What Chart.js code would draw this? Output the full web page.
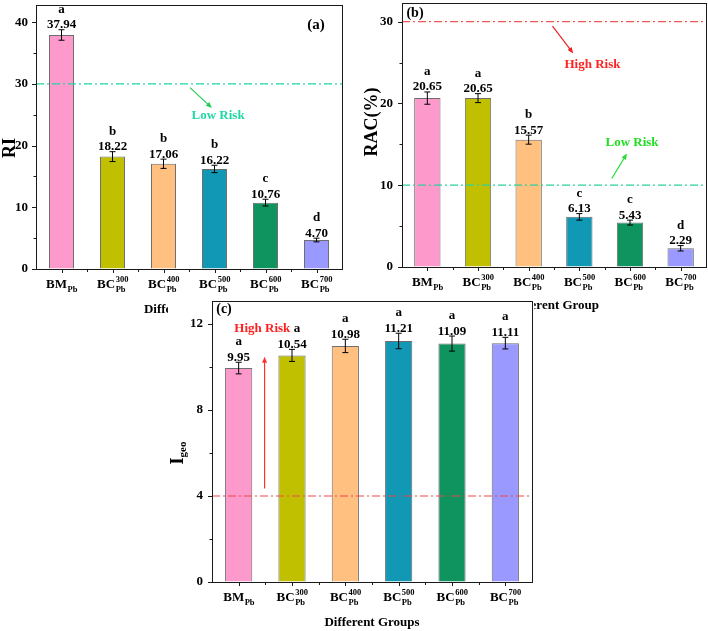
<!DOCTYPE html>
<html>
<head>
<meta charset="utf-8">
<script src="https://cdn.jsdelivr.net/npm/chart.js@4.4.0/dist/chart.umd.min.js"></script>
<style>
  html, body { margin: 0; padding: 0; background: #fff; }
  #wrap { position: relative; width: 708px; height: 631px; overflow: hidden; background: #fff; }
  canvas { position: absolute; display: block; }
  #ca { left: 0; top: 0; }
  #cb { left: 354px; top: 0; }
  #cc { left: 168px; top: 298px; background: #fff; z-index: 2; }
</style>
</head>
<body>
<div id="wrap">
  <canvas id="ca" width="354" height="320"></canvas>
  <canvas id="cb" width="354" height="320"></canvas>
  <canvas id="cc" width="366" height="333"></canvas>
</div>
<script>
// groups on the x axis: BM_Pb, BC^300_Pb ... BC^700_Pb
var groups = ['BM', 'BC', 'BC', 'BC', 'BC', 'BC'];
var groupTemps = ['', '300', '400', '500', '600', '700'];
var groupSub = 'Pb';
var barColors = ['#fd99cb', '#c0c000', '#ffc080', '#1098b4', '#0f945f', '#9999ff'];

// (a) RI
var riValues = [37.94, 18.22, 17.06, 16.22, 10.76, 4.70];
var riErrors = [0.85, 0.8, 0.75, 0.6, 0.55, 0.3];
var riLetters = ['a', 'b', 'b', 'b', 'c', 'd'];
// (b) RAC(%)
var racValues = [20.65, 20.65, 15.57, 6.13, 5.43, 2.29];
var racErrors = [0.75, 0.55, 0.55, 0.4, 0.3, 0.33];
var racLetters = ['a', 'a', 'b', 'c', 'c', 'd'];
// (c) Igeo
var igeoValues = [9.95, 10.54, 10.98, 11.21, 11.09, 11.11];
var igeoErrors = [0.27, 0.28, 0.31, 0.36, 0.35, 0.27];
var igeoLetters = ['a', 'a', 'a', 'a', 'a', 'a'];

// risk thresholds
var riLimits = [30];
var racLimits = [30, 10];
var igeoLimits = [4];

var serif = '"Liberation Serif", "Times New Roman", serif';
function bold(px) { return 'bold ' + px + 'px ' + serif; }

function arrow(c, x0, y0, x1, y1, color) {
    var ang = Math.atan2(y1 - y0, x1 - x0);
    c.strokeStyle = color; c.fillStyle = color; c.lineWidth = 1.2;
    c.beginPath(); c.moveTo(x0, y0);
    c.lineTo(x1 - 5 * Math.cos(ang), y1 - 5 * Math.sin(ang)); c.stroke();
    c.beginPath();
    c.moveTo(x1, y1);
    c.lineTo(x1 - 6 * Math.cos(ang) + 2.5 * Math.sin(ang), y1 - 6 * Math.sin(ang) - 2.5 * Math.cos(ang));
    c.lineTo(x1 - 6 * Math.cos(ang) - 2.5 * Math.sin(ang), y1 - 6 * Math.sin(ang) + 2.5 * Math.cos(ang));
    c.closePath(); c.fill();
}

function groupLabel(c, x, base, i) {
    var main = groups[i], sup = groupTemps[i];
    c.font = bold(13); var mw = c.measureText(main).width;
    c.font = bold(8.5);
    var sw = c.measureText(sup).width, bw = c.measureText(groupSub).width;
    var x0 = x - (mw + Math.max(sw, bw)) / 2;
    c.textAlign = 'left';
    c.font = bold(13); c.fillText(main, x0, base);
    c.font = bold(8.5);
    if (sup) c.fillText(sup, x0 + mw + 0.5, base - 6.5);
    c.fillText(groupSub, x0 + mw + 0.5, base + 3.5);
}

function decor(opt) {
    return {
        id: 'decor',
        afterDatasetsDraw: function (chart) {
            var c = chart.ctx, ys = chart.scales.y, xs = chart.scales.x, a = chart.chartArea;
            var bars = chart.getDatasetMeta(0).data;
            c.save();
            // dash-dot threshold lines
            opt.limits.forEach(function (v, k) {
                var y = ys.getPixelForValue(v);
                c.strokeStyle = opt.limitColors[k]; c.lineWidth = 1.2;
                c.setLineDash([8, 3, 2, 3]);
                c.beginPath(); c.moveTo(a.left, y); c.lineTo(a.right, y); c.stroke();
            });
            c.setLineDash([]);
            // error bars, values and letters
            opt.values.forEach(function (v, i) {
                var x = bars[i].x;
                var top = ys.getPixelForValue(v + opt.errors[i]);
                var bot = ys.getPixelForValue(v - opt.errors[i]);
                c.strokeStyle = '#000'; c.lineWidth = 1;
                c.beginPath();
                c.moveTo(x, top); c.lineTo(x, bot);
                c.moveTo(x - 3, top); c.lineTo(x + 3, top);
                c.moveTo(x - 3, bot); c.lineTo(x + 3, bot);
                c.stroke();
                c.fillStyle = '#000'; c.font = bold(13);
                c.textAlign = 'center'; c.textBaseline = 'alphabetic';
                c.fillText(v.toFixed(2), x, top - 1.5);
                c.fillText(opt.letters[i], x + (opt.letterShift ? opt.letterShift[i] : 0), top - 17);
            });
            // risk notes with arrows
            opt.notes.forEach(function (n) {
                arrow(c, xs.getPixelForValue(n.from[0]), ys.getPixelForValue(n.from[1]),
                      xs.getPixelForValue(n.to[0]), ys.getPixelForValue(n.to[1]), n.arrowColor);
                c.fillStyle = n.color; c.font = bold(13);
                c.textAlign = 'center'; c.textBaseline = 'middle';
                c.fillText(n.text, xs.getPixelForValue(n.at[0]), ys.getPixelForValue(n.at[1]));
            });
            c.restore();
        },
        afterDraw: function (chart) {
            var c = chart.ctx, ys = chart.scales.y, a = chart.chartArea;
            var bars = chart.getDatasetMeta(0).data;
            c.save();
            c.strokeStyle = '#1a1a1a'; c.lineWidth = 1;
            c.strokeRect(Math.round(a.left) + 0.5, Math.round(a.top) + 0.5,
                         Math.round(a.right - a.left), Math.round(a.bottom - a.top));
            // y ticks, major and minor
            c.beginPath();
            for (var v = 0; v <= opt.yMax + 1e-9; v += opt.step / 2) {
                var y = Math.round(ys.getPixelForValue(v)) + 0.5;
                var len = (Math.abs(v / opt.step - Math.round(v / opt.step)) < 1e-6) ? 4 : 2.5;
                c.moveTo(a.left - len, y); c.lineTo(a.left, y);
            }
            // x ticks at centres and between groups
            var gap = (bars[1].x - bars[0].x) / 2;
            bars.forEach(function (b, i) {
                var x = Math.round(b.x) + 0.5;
                c.moveTo(x, a.bottom); c.lineTo(x, a.bottom + 4);
                if (i < bars.length - 1) {
                    var xm = Math.round(b.x + gap) + 0.5;
                    c.moveTo(xm, a.bottom); c.lineTo(xm, a.bottom + 3);
                }
            });
            c.stroke();
            // category labels
            c.fillStyle = '#000'; c.textBaseline = 'alphabetic';
            bars.forEach(function (b, i) { groupLabel(c, b.x, a.bottom + 19, i); });
            // x title
            c.font = bold(13); c.textAlign = 'center';
            c.fillText(opt.xTitle, (a.left + a.right) / 2, a.bottom + opt.xTitleGap);
            // y title, rotated
            c.save();
            c.translate(opt.yTitleAt[0], opt.yTitleAt[1]);
            c.rotate(-Math.PI / 2);
            c.font = bold(18); var tw = c.measureText(opt.yTitle).width;
            c.font = bold(11); var sw = opt.yTitleSub ? c.measureText(opt.yTitleSub).width : 0;
            var x0 = -(tw + sw) / 2;
            c.textAlign = 'left'; c.textBaseline = 'middle';
            c.font = bold(18); c.fillText(opt.yTitle, x0, 0);
            if (opt.yTitleSub) { c.font = bold(11); c.fillText(opt.yTitleSub, x0 + tw, 5); }
            c.restore();
            // panel tag
            c.font = bold(opt.tagSize); c.textAlign = 'center';
            c.fillText(opt.tag, opt.tagAt[0], opt.tagAt[1]);
            c.restore();
        }
    };
}

function makePanel(id, opt) {
    var el = document.getElementById(id);
    var W = el.width, H = el.height, area = opt.area;
    return new Chart(el, {
        type: 'bar',
        data: {
            labels: groups.map(function (g, i) { return g + groupTemps[i] + groupSub; }),
            datasets: [{
                data: opt.values,
                backgroundColor: barColors,
                borderColor: '#6e6e6e',
                borderWidth: 1,
                barPercentage: opt.barPct,
                categoryPercentage: 1
            }]
        },
        options: {
            responsive: false,
            animation: false,
            devicePixelRatio: 1,
            layout: { padding: { left: 0, top: area[1], right: W - area[2], bottom: 0 } },
            plugins: { legend: { display: false }, tooltip: { enabled: false } },
            scales: {
                x: {
                    grid: { display: false, drawTicks: false },
                    border: { color: '#000', width: 1 },
                    ticks: { display: false },
                    afterFit: function (s) {
                        s.height = H - area[3];
                        s.paddingLeft = 0; s.paddingRight = 0;
                    }
                },
                y: {
                    min: 0, max: opt.yMax,
                    grid: { drawOnChartArea: false, drawTicks: false },
                    border: { color: '#000', width: 1 },
                    ticks: {
                        stepSize: opt.step, padding: opt.tickPad, color: '#000',
                        font: { family: serif, size: 13, weight: 'bold' }
                    },
                    afterBuildTicks: function (s) {
                        s.ticks = s.ticks.filter(function (t) { return Math.abs(t.value % opt.step) < 1e-9; });
                    },
                    afterFit: function (s) {
                        s.width = area[0];
                        s.paddingTop = 0; s.paddingBottom = 0;
                    }
                }
            }
        },
        plugins: [decor(opt)]
    });
}

makePanel('ca', {
    values: riValues, errors: riErrors, letters: riLetters,
    area: [36, 5, 342, 269], yMax: 42.8, step: 10, tickPad: 8, barPct: 0.49,
    limits: riLimits, limitColors: ['#1fd8a4'],
    notes: [{ text: 'Low Risk', color: '#1fd8a4', arrowColor: '#22cc55', at: [3.07, 24.8], from: [2.52, 29.4], to: [2.95, 26.1] }],
    xTitle: 'Different Group', xTitleGap: 44,
    yTitle: 'RI', yTitleAt: [10, 148],
    tag: '(a)', tagSize: 15, tagAt: [316, 29]
});

makePanel('cb', {
    values: racValues, errors: racErrors, letters: racLetters,
    area: [48, 3, 352, 267], yMax: 32.28, step: 10, tickPad: 9, barPct: 0.52,
    limits: racLimits, limitColors: ['#f25858', '#2ccf9e'],
    notes: [
        { text: 'High Risk', color: '#ff2222', arrowColor: '#ee2020', at: [3.26, 24.7], from: [2.47, 29.46], to: [2.88, 26.12] },
        { text: 'Low Risk', color: '#22dd22', arrowColor: '#22dd33', at: [4.04, 15.17], from: [3.64, 10.82], to: [3.94, 13.88] }
    ],
    xTitle: 'Different Group', xTitleGap: 42,
    yTitle: 'RAC(%)', yTitleAt: [18, 122],
    tag: '(b)', tagSize: 14, tagAt: [61, 17]
});

makePanel('cc', {
    values: igeoValues, errors: igeoErrors, letters: igeoLetters,
    area: [44, 3, 364, 284], yMax: 13.07, step: 4, tickPad: 9, barPct: 0.51,
    limits: igeoLimits, limitColors: ['#ee4848'],
    notes: [{ text: 'High Risk', color: '#ff2020', arrowColor: '#ff3030', at: [0.443, 11.77], from: [0.486, 4.35], to: [0.486, 10.48] }],
    letterShift: [0, 5, 0, 0, 0, 0],
    xTitle: 'Different Groups', xTitleGap: 44,
    yTitle: 'I', yTitleSub: 'geo', yTitleAt: [10, 155],
    tag: '(c)', tagSize: 14, tagAt: [56, 15]
});
</script>
</body>
</html>
